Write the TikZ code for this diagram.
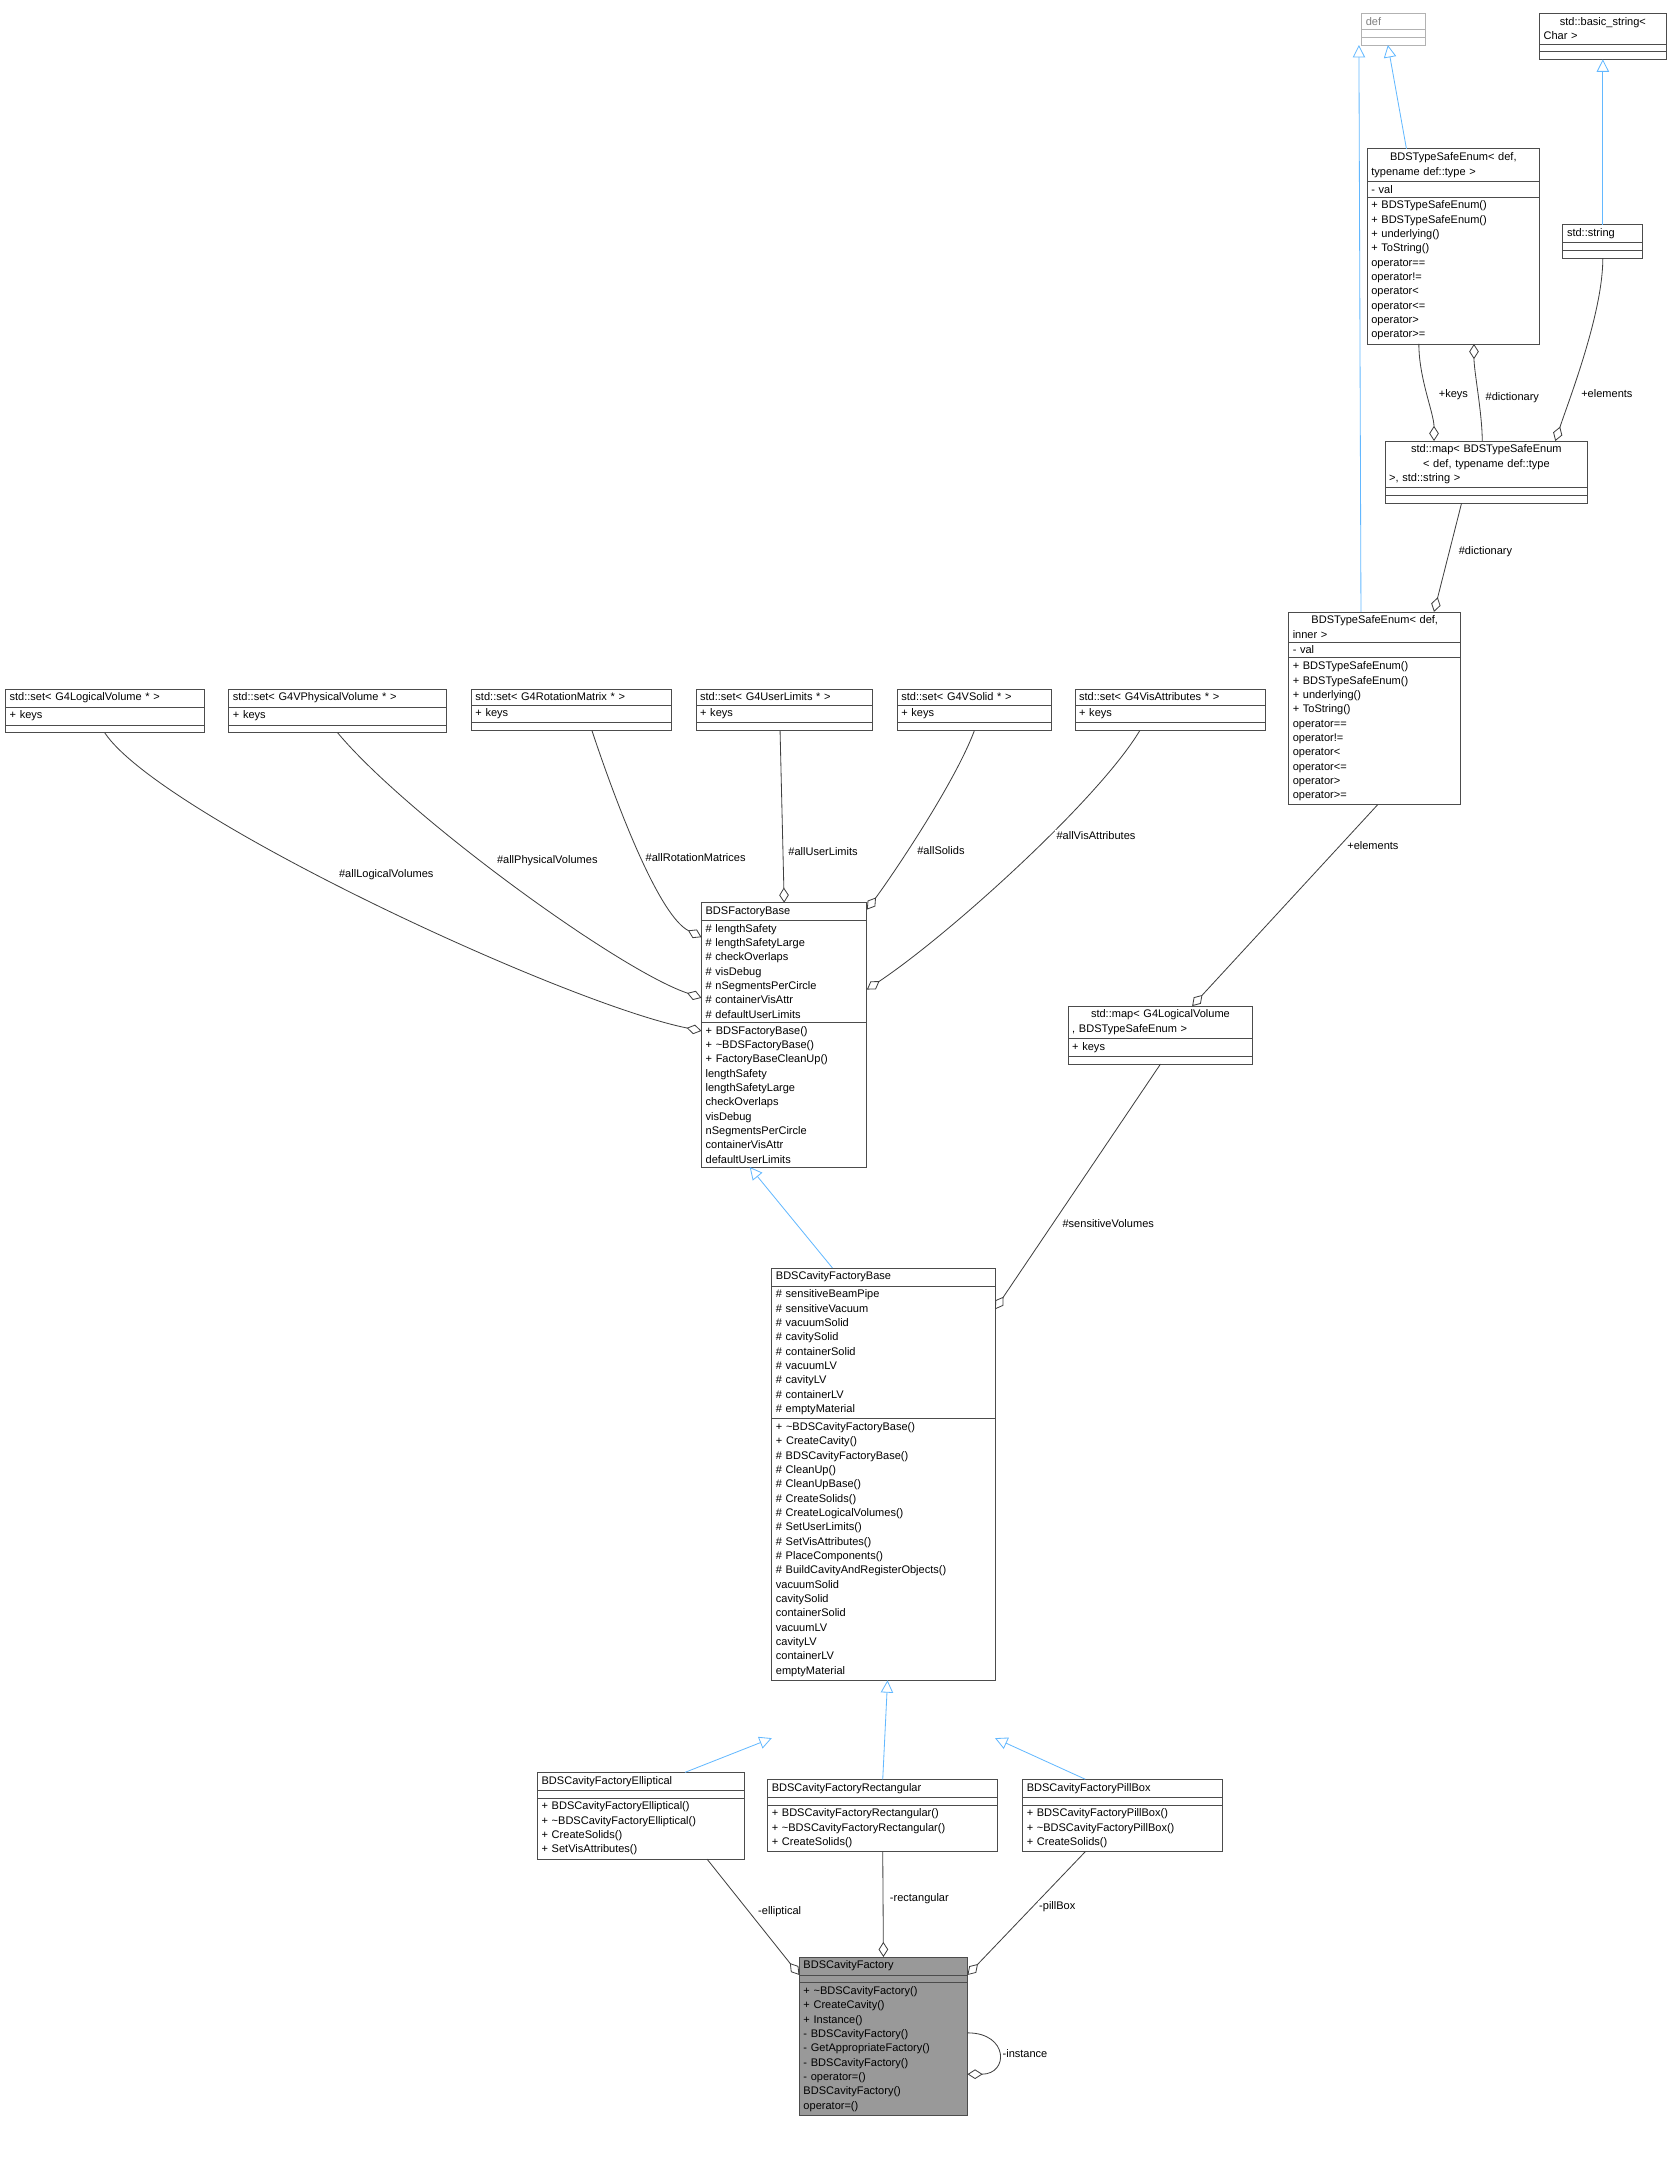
\documentclass[tikz,border=0pt]{standalone}
\usepackage{fontspec}
\setmainfont{Liberation Sans}
\usetikzlibrary{shapes.multipart,arrows.meta}
\definecolor{cedge}{RGB}{64,64,64}
\definecolor{cinh}{RGB}{99,184,255}
\definecolor{cfill}{RGB}{153,153,153}

\begin{document}
\begin{tikzpicture}[x=1pt, y=-1pt, inner sep=0pt, outer sep=0pt,
  cls/.style={draw=black!70, line width=0.6pt, rectangle split, rectangle split parts=3,
    rectangle split empty part height=9pt, anchor=north west, align=left,
    inner xsep=3pt, inner ysep=2.5pt, font=\fontsize{8}{10.4}\selectfont},
  grey/.style={draw=black!30, text=black!50},
  inh/.style={draw=cinh, line width=0.6pt, -{Triangle[open,length=9pt,width=9pt]}},
  agg/.style={draw=cedge, line width=0.6pt, -{Diamond[open,length=11pt,width=7pt]}},
  lbl/.style={font=\fontsize{8}{10}\selectfont, fill=white, inner sep=1pt}]
\useasboundingbox (0,0) rectangle (1213,1568);

% top classes
\node[cls, grey, text width=40pt] (def) at (988,10) {\centering def\nodepart{second}\nodepart{third}};
\node[cls, text width=86pt] (bstr) at (1117,10) {\centering std::basic\_string\textless\\ Char \textgreater\nodepart{second}\nodepart{third}};
\node[cls, text width=119pt] (tseA) at (992,108) {\centering BDSTypeSafeEnum\textless{} def,\\ typename def::type \textgreater
  \nodepart{second}- val
  \nodepart{third}+ BDSTypeSafeEnum()\\+ BDSTypeSafeEnum()\\+ underlying()\\+ ToString()\\* operator==\\* operator!=\\* operator\textless\\* operator\textless=\\* operator\textgreater\\* operator\textgreater=};
\node[cls, text width=52pt] (str) at (1134,163) {\centering std::string\nodepart{second}\nodepart{third}};
\node[cls, text width=141pt] (mapA) at (1005,320) {\centering std::map\textless{} BDSTypeSafeEnum\\ \textless{} def, typename def::type\\ \textgreater, std::string \textgreater\nodepart{second}\nodepart{third}};
\node[cls, text width=119pt] (tseB) at (935,444) {\centering BDSTypeSafeEnum\textless{} def,\\ inner \textgreater
  \nodepart{second}- val
  \nodepart{third}+ BDSTypeSafeEnum()\\+ BDSTypeSafeEnum()\\+ underlying()\\+ ToString()\\* operator==\\* operator!=\\* operator\textless\\* operator\textless=\\* operator\textgreater\\* operator\textgreater=};
\node[cls, text width=128pt] (mapB) at (775,730) {\centering std::map\textless{} G4LogicalVolume\\ *, BDSTypeSafeEnum \textgreater\nodepart{second}+ keys\nodepart{third}};

% sets
\node[cls, text width=138pt] (setLV) at (4,500) {\centering std::set\textless{} G4LogicalVolume * \textgreater\nodepart{second}+ keys\nodepart{third}};
\node[cls, text width=152pt] (setPV) at (166,500) {\centering std::set\textless{} G4VPhysicalVolume * \textgreater\nodepart{second}+ keys\nodepart{third}};
\node[cls, text width=139pt] (setRM) at (342,500) {\centering std::set\textless{} G4RotationMatrix * \textgreater\nodepart{second}+ keys\nodepart{third}};
\node[cls, text width=122pt] (setUL) at (505,500) {\centering std::set\textless{} G4UserLimits * \textgreater\nodepart{second}+ keys\nodepart{third}};
\node[cls, text width=106pt] (setSO) at (651,500) {\centering std::set\textless{} G4VSolid * \textgreater\nodepart{second}+ keys\nodepart{third}};
\node[cls, text width=132pt] (setVA) at (780,500) {\centering std::set\textless{} G4VisAttributes * \textgreater\nodepart{second}+ keys\nodepart{third}};

% factories
\node[cls, text width=114pt] (fb) at (509,655) {\centering BDSFactoryBase
  \nodepart{second}\# lengthSafety\\\# lengthSafetyLarge\\\# checkOverlaps\\\# visDebug\\\# nSegmentsPerCircle\\\# containerVisAttr\\\# defaultUserLimits
  \nodepart{third}+ BDSFactoryBase()\\+ \textasciitilde BDSFactoryBase()\\+ FactoryBaseCleanUp()\\* lengthSafety\\* lengthSafetyLarge\\* checkOverlaps\\* visDebug\\* nSegmentsPerCircle\\* containerVisAttr\\* defaultUserLimits};
\node[cls, text width=156pt] (cfb) at (560,920) {\centering BDSCavityFactoryBase
  \nodepart{second}\# sensitiveBeamPipe\\\# sensitiveVacuum\\\# vacuumSolid\\\# cavitySolid\\\# containerSolid\\\# vacuumLV\\\# cavityLV\\\# containerLV\\\# emptyMaterial
  \nodepart{third}+ \textasciitilde BDSCavityFactoryBase()\\+ CreateCavity()\\\# BDSCavityFactoryBase()\\\# CleanUp()\\\# CleanUpBase()\\\# CreateSolids()\\\# CreateLogicalVolumes()\\\# SetUserLimits()\\\# SetVisAttributes()\\\# PlaceComponents()\\\# BuildCavityAndRegisterObjects()\\* vacuumSolid\\* cavitySolid\\* containerSolid\\* vacuumLV\\* cavityLV\\* containerLV\\* emptyMaterial};
\node[cls, text width=144pt] (ell) at (390,1286) {\centering BDSCavityFactoryElliptical\nodepart{second}\nodepart{third}+ BDSCavityFactoryElliptical()\\+ \textasciitilde BDSCavityFactoryElliptical()\\+ CreateSolids()\\+ SetVisAttributes()};
\node[cls, text width=161pt] (rect) at (557,1291) {\centering BDSCavityFactoryRectangular\nodepart{second}\nodepart{third}+ BDSCavityFactoryRectangular()\\+ \textasciitilde BDSCavityFactoryRectangular()\\+ CreateSolids()};
\node[cls, text width=139pt] (pill) at (742,1291) {\centering BDSCavityFactoryPillBox\nodepart{second}\nodepart{third}+ BDSCavityFactoryPillBox()\\+ \textasciitilde BDSCavityFactoryPillBox()\\+ CreateSolids()};
\node[cls, fill=cfill, text width=116pt] (cf) at (580,1420) {\centering BDSCavityFactory
  \nodepart{second}
  \nodepart{third}+ \textasciitilde BDSCavityFactory()\\+ CreateCavity()\\+ Instance()\\- BDSCavityFactory()\\- GetAppropriateFactory()\\- BDSCavityFactory()\\- operator=()\\* BDSCavityFactory()\\* operator=()};

% inheritance
\draw[inh] ([xshift=-34pt]tseA.north) -- ([xshift=-4pt]def.south);
\draw[inh] ([xshift=-10pt]tseB.north) -- ([xshift=-25pt]def.south);
\draw[inh] (str.north) -- (bstr.south);
\draw[inh] ([xshift=-37pt]cfb.north) -- ([xshift=-25pt]fb.south);
\draw[inh] ([xshift=32pt]ell.north) -- ([yshift=-42pt]cfb.south west);
\draw[inh] (rect.north) -- ([xshift=3pt]cfb.south);
\draw[inh] ([xshift=-27pt]pill.north) -- ([yshift=-42pt]cfb.south east);

% aggregation
\draw[agg] ([xshift=-25pt]tseA.south) .. controls +(0,25) and +(0,-20) .. ([xshift=-38pt]mapA.north) node[lbl, pos=0.5, right=8pt] {+keys};
\draw[agg] ([xshift=-3pt]mapA.north) .. controls +(0,-20) and +(0,20) .. ([xshift=15pt]tseA.south) node[lbl, pos=0.45, right=4pt] {\#dictionary};
\draw[agg] (str.south) .. controls +(0,40) and +(10,-30) .. ([xshift=50pt]mapA.north) node[lbl, pos=0.7, right=6pt] {+elements};
\draw[agg] ([xshift=-18pt]mapA.south) -- ([xshift=43pt]tseB.north) node[lbl, pos=0.45, right=6pt] {\#dictionary};
\draw[agg] ([xshift=2pt]tseB.south) -- ([xshift=23pt]mapB.north) node[lbl, pos=0.2, right=4pt] {+elements};
\draw[agg] (mapB.south) -- ([yshift=-30pt]cfb.north east) node[lbl, pos=0.65, right=6pt] {\#sensitiveVolumes};

\draw[agg] (setLV.south) .. controls +(40,60) and +(-100,-20) .. ([yshift=-93pt]fb.north west) node[lbl, pos=0.45, above right=2pt] {\#allLogicalVolumes};
\draw[agg] (setPV.south) .. controls +(50,60) and +(-60,-20) .. ([yshift=-69pt]fb.north west) node[lbl, pos=0.45, above right=2pt] {\#allPhysicalVolumes};
\draw[agg] ([xshift=15pt]setRM.south) .. controls +(20,60) and +(-30,-15) .. ([yshift=-25pt]fb.north west) node[lbl, pos=0.5, right=2pt] {\#allRotationMatrices};
\draw[agg] ([xshift=-3pt]setUL.south) -- ([xshift=0pt]fb.north) node[lbl, pos=0.7, right=3pt] {\#allUserLimits};
\draw[agg] (setSO.south) .. controls +(-15,40) and +(15,-20) .. ([yshift=-5pt]fb.north east) node[lbl, pos=0.6, right=6pt] {\#allSolids};
\draw[agg] ([xshift=-22pt]setVA.south) .. controls +(-30,50) and +(60,-40) .. ([yshift=-63pt]fb.north east) node[lbl, pos=0.4, right=4pt] {\#allVisAttributes};

\draw[agg] ([xshift=48pt]ell.south) -- ([yshift=-13pt]cf.north west) node[lbl, pos=0.45, right=6pt] {-elliptical};
\draw[agg] (rect.south) -- (cf.north) node[lbl, pos=0.45, right=4pt] {-rectangular};
\draw[agg] ([xshift=-27pt]pill.south) -- ([yshift=-13pt]cf.north east) node[lbl, pos=0.45, right=4pt] {-pillBox};
\draw[agg] ([yshift=-55pt]cf.north east) .. controls +(30,0) and +(30,0) .. ([yshift=-85pt]cf.north east) node[lbl, pos=0.5, right=2pt] {-instance};
\end{tikzpicture}
\end{document}
